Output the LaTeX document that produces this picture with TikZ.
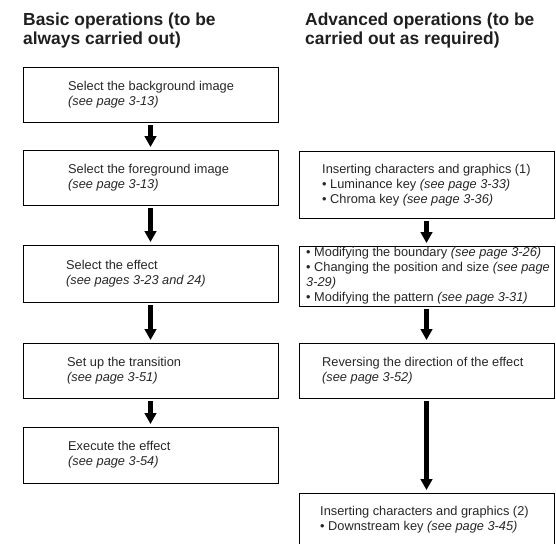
\documentclass[tikz,border=0pt]{standalone}
\usepackage{fontspec}
\setmainfont{Liberation Sans}
\usetikzlibrary{arrows.meta}
\tikzset{
  box/.style={draw, line width=0.9pt, inner sep=0pt, minimum width=255pt},
  txt/.style={anchor=west, align=left, inner sep=0pt, text=black!85, font=\fontsize{12.8}{15}\selectfont},
  hdr/.style={anchor=north west, align=left, inner sep=0pt, text=black!88, font=\fontsize{17.4}{19}\selectfont\bfseries},
  arr/.style={line width=4.3pt, -{Triangle[width=11.5pt,length=11pt]}, shorten <=3pt, shorten >=2.5pt}
}
\begin{document}
\begin{tikzpicture}[x=1pt,y=-1pt]
\useasboundingbox (0,0) rectangle (556,543);
% headers
\node[hdr] (h1) at (23,13) {Basic operations (to be\\always carried out)};
\node[hdr] (h2) at (305,13) {Advanced operations (to be\\carried out as required)};
% left boxes
\node[box, minimum height=55pt] (b1) at (150.5,94.5) {};
\node[box, minimum height=55pt] (b2) at (150.5,177.5) {};
\node[box, minimum height=57pt] (b3) at (150.5,273.5) {};
\node[box, minimum height=55pt] (b4) at (150.5,370.5) {};
\node[box, minimum height=56pt] (b5) at (150.5,455) {};
\node[txt] (t1) at (68,95) {Select the background image\\\textit{(see page 3-13)}};
\node[txt] (t2) at (68,178) {Select the foreground image\\\textit{(see page 3-13)}};
\node[txt] (t3) at (66,274) {Select the effect\\\textit{(see pages 3-23 and 24)}};
\node[txt] (t4) at (67,371) {Set up the transition\\\textit{(see page 3-51)}};
\node[txt] (t5) at (68,455) {Execute the effect\\\textit{(see page 3-54)}};
% right boxes
\node[box, minimum height=67pt] (r1) at (426.5,184.5) {};
\node[box, minimum height=60pt] (r2) at (426.5,276) {};
\node[box, minimum height=55pt] (r3) at (426.5,370.5) {};
\node[box, minimum height=54pt] (r4) at (426.5,520) {};
\node[txt] (s1) at (322,185) {Inserting characters and graphics (1)\\%
 • Luminance key \textit{(see page 3-33)}\\%
 • Chroma key \textit{(see page 3-36)}};
\node[txt] (s2) at (306,276) {• Modifying the boundary \textit{(see page 3-26)}\\%
• Changing the position and size \textit{(see page}\\%
\textit{3-29)}\\%
• Modifying the pattern \textit{(see page 3-31)}};
\node[txt] (s3) at (322,371) {Reversing the direction of the effect\\\textit{(see page 3-52)}};
\node[txt] (s4) at (320,520) {Inserting characters and graphics (2)\\%
 • Downstream key \textit{(see page 3-45)}};
% arrows
\draw[arr] (b1.south) -- (b2.north);
\draw[arr] (b2.south) -- (b3.north);
\draw[arr] (b3.south) -- (b4.north);
\draw[arr] (b4.south) -- (b5.north);
\draw[arr] (r1.south) -- (r2.north);
\draw[arr] (r2.south) -- (r3.north);
\draw[arr] (r3.south) -- (r4.north);
\end{tikzpicture}
\end{document}
